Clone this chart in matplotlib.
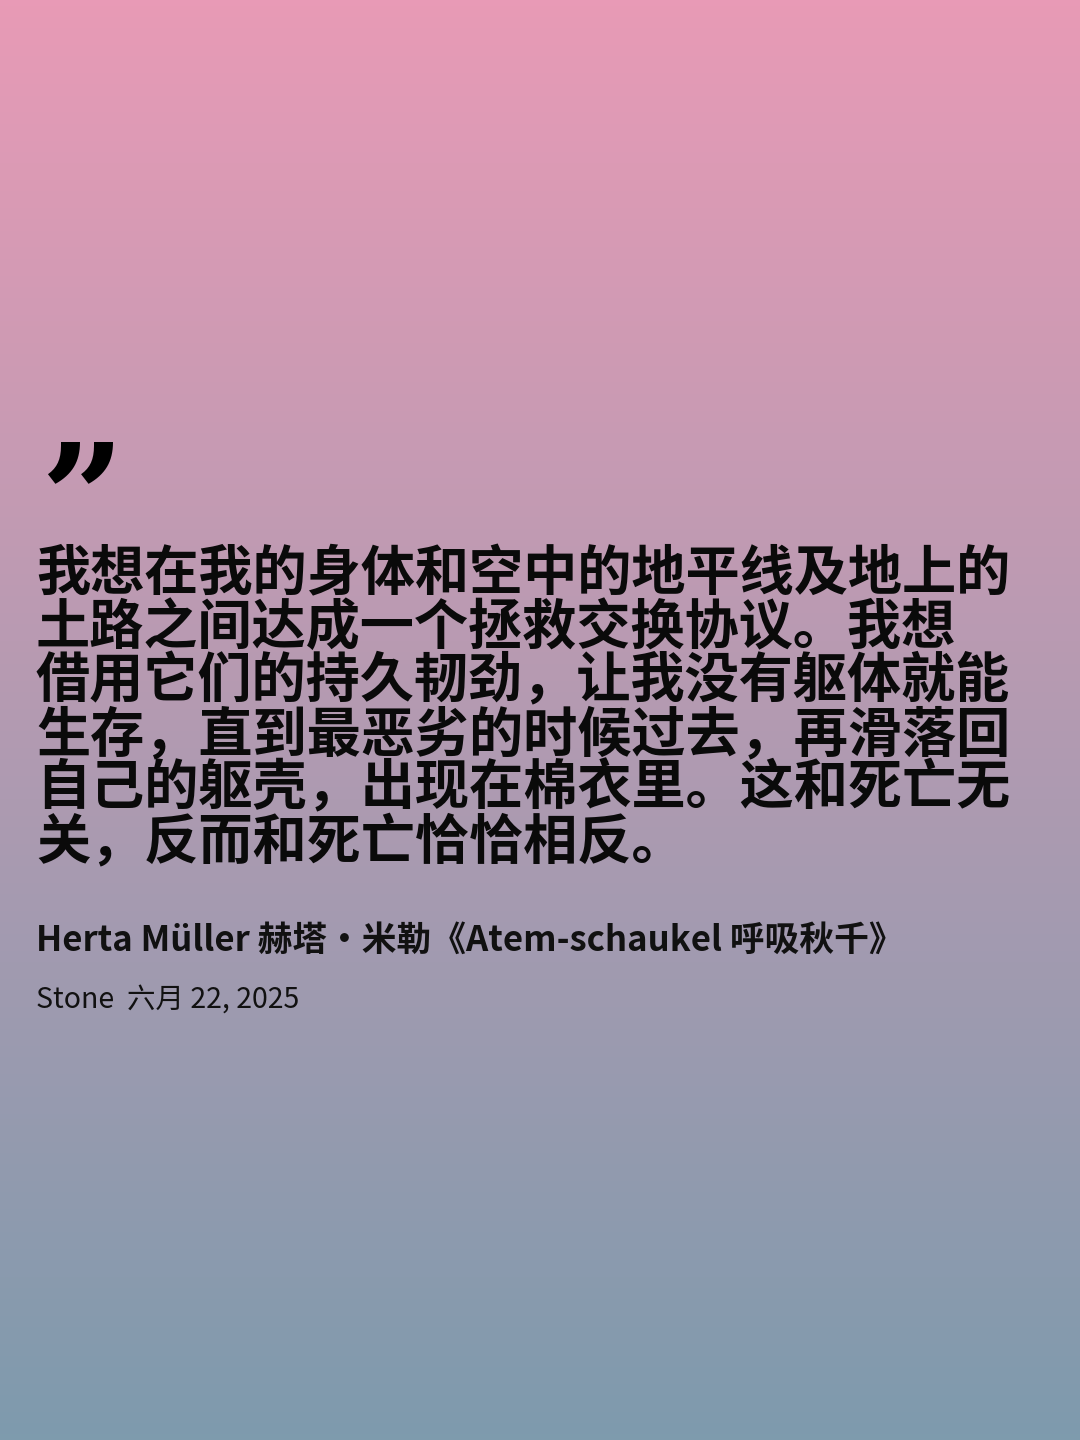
import matplotlib
matplotlib.use('Agg')
import matplotlib.pyplot as plt
import numpy as np
from matplotlib.colors import LinearSegmentedColormap

W, H = 1080, 1440
top_color = '#e89ab6'
bottom_color = '#7e9bad'

quote_lines = [
    '我想在我的身体和空中的地平线及地上的',
    '土路之间达成一个拯救交换协议。我想',
    '借用它们的持久韧劲，让我没有躯体就能',
    '生存，直到最恶劣的时候过去，再滑落回',
    '自己的躯壳，出现在棉衣里。这和死亡无',
    '关，反而和死亡恰恰相反。',
]
source = 'Herta Müller 赫塔·米勒《Atem-schaukel 呼吸秋千》'
byline = 'Stone  六月 22, 2025'

fonts = ['Noto Sans CJK SC', 'DejaVu Sans']

fig = plt.figure(figsize=(W / 100, H / 100), dpi=100)
ax = fig.add_axes([0, 0, 1, 1])
ax.set_xlim(0, W)
ax.set_ylim(H, 0)
ax.axis('off')

cmap = LinearSegmentedColormap.from_list('bg', [top_color, bottom_color])
grad = np.linspace(0, 1, 256).reshape(-1, 1)
ax.imshow(grad, cmap=cmap, aspect='auto', extent=[0, W, H, 0])

ax.text(40, 548, '\u201d', fontsize=105, fontweight='bold', family=['DejaVu Serif'],
        color='black', va='baseline', ha='left')

y0, dy = 575, 53.5
for i, line in enumerate(quote_lines):
    ax.text(36, y0 + i * dy, line, fontsize=39, fontweight='bold', family=fonts,
            color='#0a0a0a', va='center', ha='left')

ax.text(36, 940, source, fontsize=25, fontweight='bold', family=fonts,
        color='#111111', va='center', ha='left')
ax.text(36, 1000, byline, fontsize=20.5, family=fonts,
        color='#111111', va='center', ha='left')

fig.savefig('out.png', dpi=100)
